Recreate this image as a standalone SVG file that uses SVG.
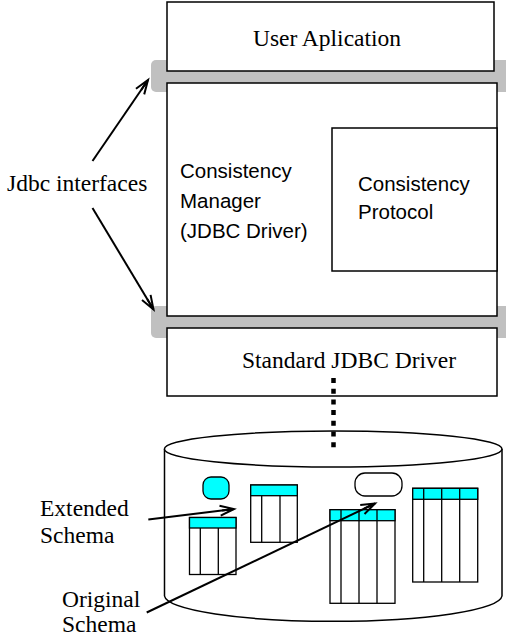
<svg xmlns="http://www.w3.org/2000/svg" width="506" height="637" viewBox="0 0 506 637">
<defs>
<style>
.box{fill:#fff;stroke:#000;stroke-width:1.5}
.bar{fill:#c0c0c0}
.serif{font-family:"Liberation Serif","Times New Roman",serif;font-size:23.5px;fill:#000}
.sans{font-family:"Liberation Sans",Arial,sans-serif;font-size:20.5px;fill:#000}
.arrow{fill:none;stroke:#000;stroke-width:2;marker-end:url(#ah)}
.cyl{fill:#fff;stroke:#000;stroke-width:1.5}
.tbl{fill:#fff;stroke:#000;stroke-width:1.3}
.hdr{fill:#00ffff;stroke:#000;stroke-width:1.3}
.col{stroke:#000;stroke-width:1.3}
</style>
<marker id="ah" markerUnits="userSpaceOnUse" markerWidth="20" markerHeight="20" viewBox="-16 -8 20 16" refX="0" refY="0" orient="auto">
<path d="M-14,-5 L0,0 L-14,5 M-12,0 L0,0" fill="none" stroke="#000" stroke-width="2"/>
</marker>
</defs>

<g id="interfaces">
<rect class="bar" x="151" y="60" width="362" height="32" rx="5"/>
<rect class="bar" x="151" y="306" width="362" height="32" rx="5"/>
</g>

<g id="user-application">
<rect class="box" x="167" y="2" width="327" height="69"/>
<text class="serif" x="327" y="46" text-anchor="middle">User Aplication</text>
</g>

<g id="consistency-manager">
<rect class="box" x="167" y="83" width="330" height="233"/>
<text class="sans" x="180" y="178">Consistency</text>
<text class="sans" x="180" y="208">Manager</text>
<text class="sans" x="180" y="238">(JDBC Driver)</text>
</g>

<g id="consistency-protocol">
<rect class="box" x="332" y="128" width="165" height="143"/>
<text class="sans" x="358" y="190.5">Consistency</text>
<text class="sans" x="358" y="218.5">Protocol</text>
</g>

<g id="standard-jdbc-driver">
<rect class="box" x="167" y="328" width="330" height="68"/>
<text class="serif" x="349" y="368" text-anchor="middle">Standard JDBC Driver</text>
</g>

<g id="jdbc-interfaces-label">
<text class="serif" x="7" y="191">Jdbc interfaces</text>
</g>

<g id="database">
<path class="cyl" d="M164.5,449 L164.5,596 A168.8,26 0 0 0 502,596 L502,449"/>
<ellipse class="cyl" cx="333.2" cy="449" rx="168.8" ry="18"/>
<rect x="203" y="477" width="26" height="22" rx="8" fill="#00ffff" stroke="#000" stroke-width="1.3"/>
<rect x="355" y="473" width="47" height="23" rx="10" fill="#fff" stroke="#000" stroke-width="1.3"/>
<g id="table-a">
<rect class="tbl" x="189.5" y="517.5" width="46.5" height="57"/>
<rect class="hdr" x="189.5" y="517.5" width="46.5" height="10.5"/>
<path class="col" d="M200.3,528 V574.5 M218.3,528 V574.5"/>
</g>
<g id="table-b">
<rect class="tbl" x="250.7" y="485" width="46.6" height="57.3"/>
<rect class="hdr" x="250.7" y="485" width="46.6" height="10.7"/>
<path class="col" d="M261.7,495.7 V542.3 M280,495.7 V542.3"/>
</g>
<g id="table-c">
<rect class="tbl" x="330" y="509.7" width="65" height="93.6"/>
<rect class="hdr" x="330" y="509.7" width="65" height="11"/>
<path class="col" d="M341,509.7 V603.3 M359,509.7 V603.3 M377,509.7 V603.3"/>
</g>
<g id="table-d">
<rect class="tbl" x="412.7" y="488.3" width="65" height="93.7"/>
<rect class="hdr" x="412.7" y="488.3" width="65" height="11"/>
<path class="col" d="M423.7,488.3 V582 M441.7,488.3 V582 M459.7,488.3 V582"/>
</g>
</g>

<g id="extended-schema-label">
<text class="serif" x="40" y="516">Extended</text>
<text class="serif" x="40" y="543">Schema</text>
</g>

<g id="original-schema-label">
<text class="serif" x="62" y="607">Original</text>
<text class="serif" x="62" y="632">Schema</text>
</g>

<g id="connectors">
<line class="arrow" x1="92.5" y1="161" x2="148" y2="80"/>
<line class="arrow" x1="92.5" y1="208" x2="153.5" y2="309.5"/>
<line x1="333.5" y1="378" x2="333.5" y2="452" stroke="#000" stroke-width="4.5" stroke-dasharray="5 5.7"/>
<line class="arrow" x1="148.3" y1="519.5" x2="234" y2="509"/>
<line class="arrow" x1="146.7" y1="612.5" x2="375" y2="503.5"/>
</g>
</svg>
